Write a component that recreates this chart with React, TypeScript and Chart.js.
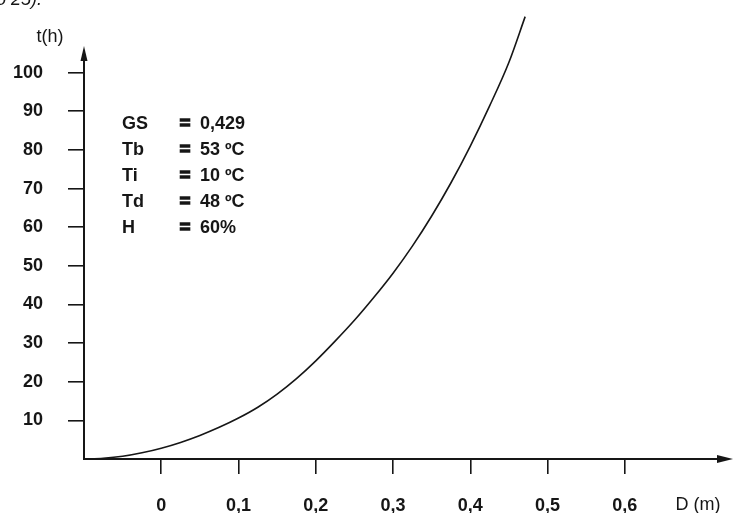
import React, { useEffect, useRef } from "react";
import { Chart, registerables } from "chart.js";

Chart.register(...registerables);

// Curve: D (m) vs t (h)
const D_VALUES = [-0.1, -0.075, -0.05, -0.025, 0, 0.025, 0.05, 0.075, 0.1, 0.125, 0.15, 0.175, 0.2, 0.225, 0.25, 0.275, 0.3, 0.325, 0.35, 0.375, 0.4, 0.425, 0.45, 0.471];
const T_VALUES = [0, 0.2, 0.7, 1.6, 2.8, 4.3, 6.1, 8.2, 10.6, 13.4, 16.8, 20.8, 25.4, 30.5, 35.9, 41.8, 48.1, 55.1, 62.9, 71.5, 81.0, 91.4, 102.7, 114.5];

const X_TICKS = [0, 0.1, 0.2, 0.3, 0.4, 0.5, 0.6];
const X_TICK_LABELS = ["0", "0,1", "0,2", "0,3", "0,4", "0,5", "0,6"];
const Y_TICKS = [10, 20, 30, 40, 50, 60, 70, 80, 90, 100];
const Y_TICK_LABELS = ["10", "20", "30", "40", "50", "60", "70", "80", "90", "100"];

const PARAM_NAMES = ["GS", "Tb", "Ti", "Td", "H"];
const PARAM_VALUES = ["0,429", "53 ºC", "10 ºC", "48 ºC", "60%"];

const X_TITLE = "D (m)";
const Y_TITLE = "t(h)";
const TOP_FRAGMENT = "ão 25).";

const INK = "#161616";
const FONT_FAMILY = "'Liberation Sans', Arial, Helvetica, sans-serif";

const decorPlugin = {
  id: "decor",
  afterDraw(chart: any) {
    const { ctx, chartArea, scales } = chart;
    const x = scales.x;
    const y = scales.y;
    const ox = x.getPixelForValue(-0.1);
    const oy = y.getPixelForValue(0);
    ctx.save();
    ctx.strokeStyle = INK;
    ctx.fillStyle = INK;
    ctx.lineWidth = 2;
    // y axis with arrow
    const yTip = 46;
    ctx.beginPath();
    ctx.moveTo(ox, oy + 1);
    ctx.lineTo(ox, yTip + 10);
    ctx.stroke();
    ctx.beginPath();
    ctx.moveTo(ox, yTip);
    ctx.lineTo(ox - 3.5, yTip + 15);
    ctx.lineTo(ox + 3.5, yTip + 15);
    ctx.closePath();
    ctx.fill();
    // x axis with arrow
    const xTip = chartArea.right;
    ctx.beginPath();
    ctx.moveTo(ox - 1, oy);
    ctx.lineTo(xTip - 10, oy);
    ctx.stroke();
    ctx.beginPath();
    ctx.moveTo(xTip, oy);
    ctx.lineTo(xTip - 16, oy - 4);
    ctx.lineTo(xTip - 16, oy + 4);
    ctx.closePath();
    ctx.fill();

    // axis titles
    ctx.textBaseline = "middle";
    ctx.textAlign = "center";
    ctx.font = `normal 18px ${FONT_FAMILY}`;
    ctx.fillText(Y_TITLE, 50, 37);
    ctx.fillText(X_TITLE, 698, 505);

    // parameter block
    ctx.font = `bold 18px ${FONT_FAMILY}`;
    const rowY = [124.5, 150.5, 176, 202, 228];
    PARAM_NAMES.forEach((name, i) => {
      ctx.textAlign = "left";
      ctx.fillText(name, 122, rowY[i]);
      ctx.textAlign = "center";
      ctx.lineWidth = 1.6;
      ctx.fillText("=", 185, rowY[i]);
      ctx.strokeText("=", 185, rowY[i]);
      ctx.textAlign = "left";
      ctx.fillText(PARAM_VALUES[i], 200, rowY[i]);
    });

    // clipped fragment of the text above the figure
    ctx.font = `italic 18px ${FONT_FAMILY}`;
    ctx.textAlign = "left";
    ctx.textBaseline = "alphabetic";
    ctx.fillText(TOP_FRAGMENT, -14, 5);
    ctx.restore();
  },
};

export default function App() {
  const canvasRef = useRef<HTMLCanvasElement | null>(null);

  useEffect(() => {
    const canvas = canvasRef.current;
    if (!canvas) return;
    const chart = new Chart(canvas, {
      type: "line",
      data: {
        datasets: [
          {
            data: D_VALUES.map((d, i) => ({ x: d, y: T_VALUES[i] })),
            borderColor: INK,
            borderWidth: 1.6,
            pointRadius: 0,
            fill: false,
            cubicInterpolationMode: "monotone",
          },
        ],
      },
      options: {
        responsive: false,
        animation: false,
        devicePixelRatio: 1,
        layout: { autoPadding: false, padding: { left: 0, right: 2, top: 0, bottom: 0 } },
        plugins: {
          legend: { display: false },
          tooltip: { enabled: false },
          title: { display: false },
        },
        scales: {
          x: {
            type: "linear",
            min: -0.1,
            max: 0.74,
            afterBuildTicks: (s: any) => {
              s.ticks = X_TICKS.map((v) => ({ value: v }));
            },
            afterFit: (s: any) => {
              s.height = 54;
              s.paddingLeft = 0;
              s.paddingRight = 0;
            },
            ticks: {
              autoSkip: false,
              maxRotation: 0,
              padding: 21,
              color: INK,
              font: { family: FONT_FAMILY, size: 18, weight: "bold" },
              callback: (_v: any, i: number) => X_TICK_LABELS[i],
            },
            grid: {
              drawOnChartArea: false,
              drawTicks: true,
              tickLength: 15,
              color: INK,
              lineWidth: 1.6,
            },
            border: { display: false },
          },
          y: {
            type: "linear",
            min: 0,
            max: 118.8,
            afterBuildTicks: (s: any) => {
              s.ticks = Y_TICKS.map((v) => ({ value: v }));
            },
            afterFit: (s: any) => {
              s.width = 84;
              s.paddingTop = 0;
              s.paddingBottom = 0;
            },
            ticks: {
              autoSkip: false,
              padding: 25,
              color: INK,
              font: { family: FONT_FAMILY, size: 18, weight: "bold" },
              callback: (_v: any, i: number) => Y_TICK_LABELS[i],
            },
            grid: {
              drawOnChartArea: false,
              drawTicks: true,
              tickLength: 16,
              color: INK,
              lineWidth: 1.6,
            },
            border: { display: false },
          },
        },
      },
      plugins: [decorPlugin],
    } as any);
    return () => chart.destroy();
  }, []);

  return (
    <div style={{ position: "absolute", left: 0, top: 0, width: 735, height: 513, background: "#fff" }}>
      <canvas ref={canvasRef} width={735} height={513} style={{ display: "block" }} />
    </div>
  );
}
